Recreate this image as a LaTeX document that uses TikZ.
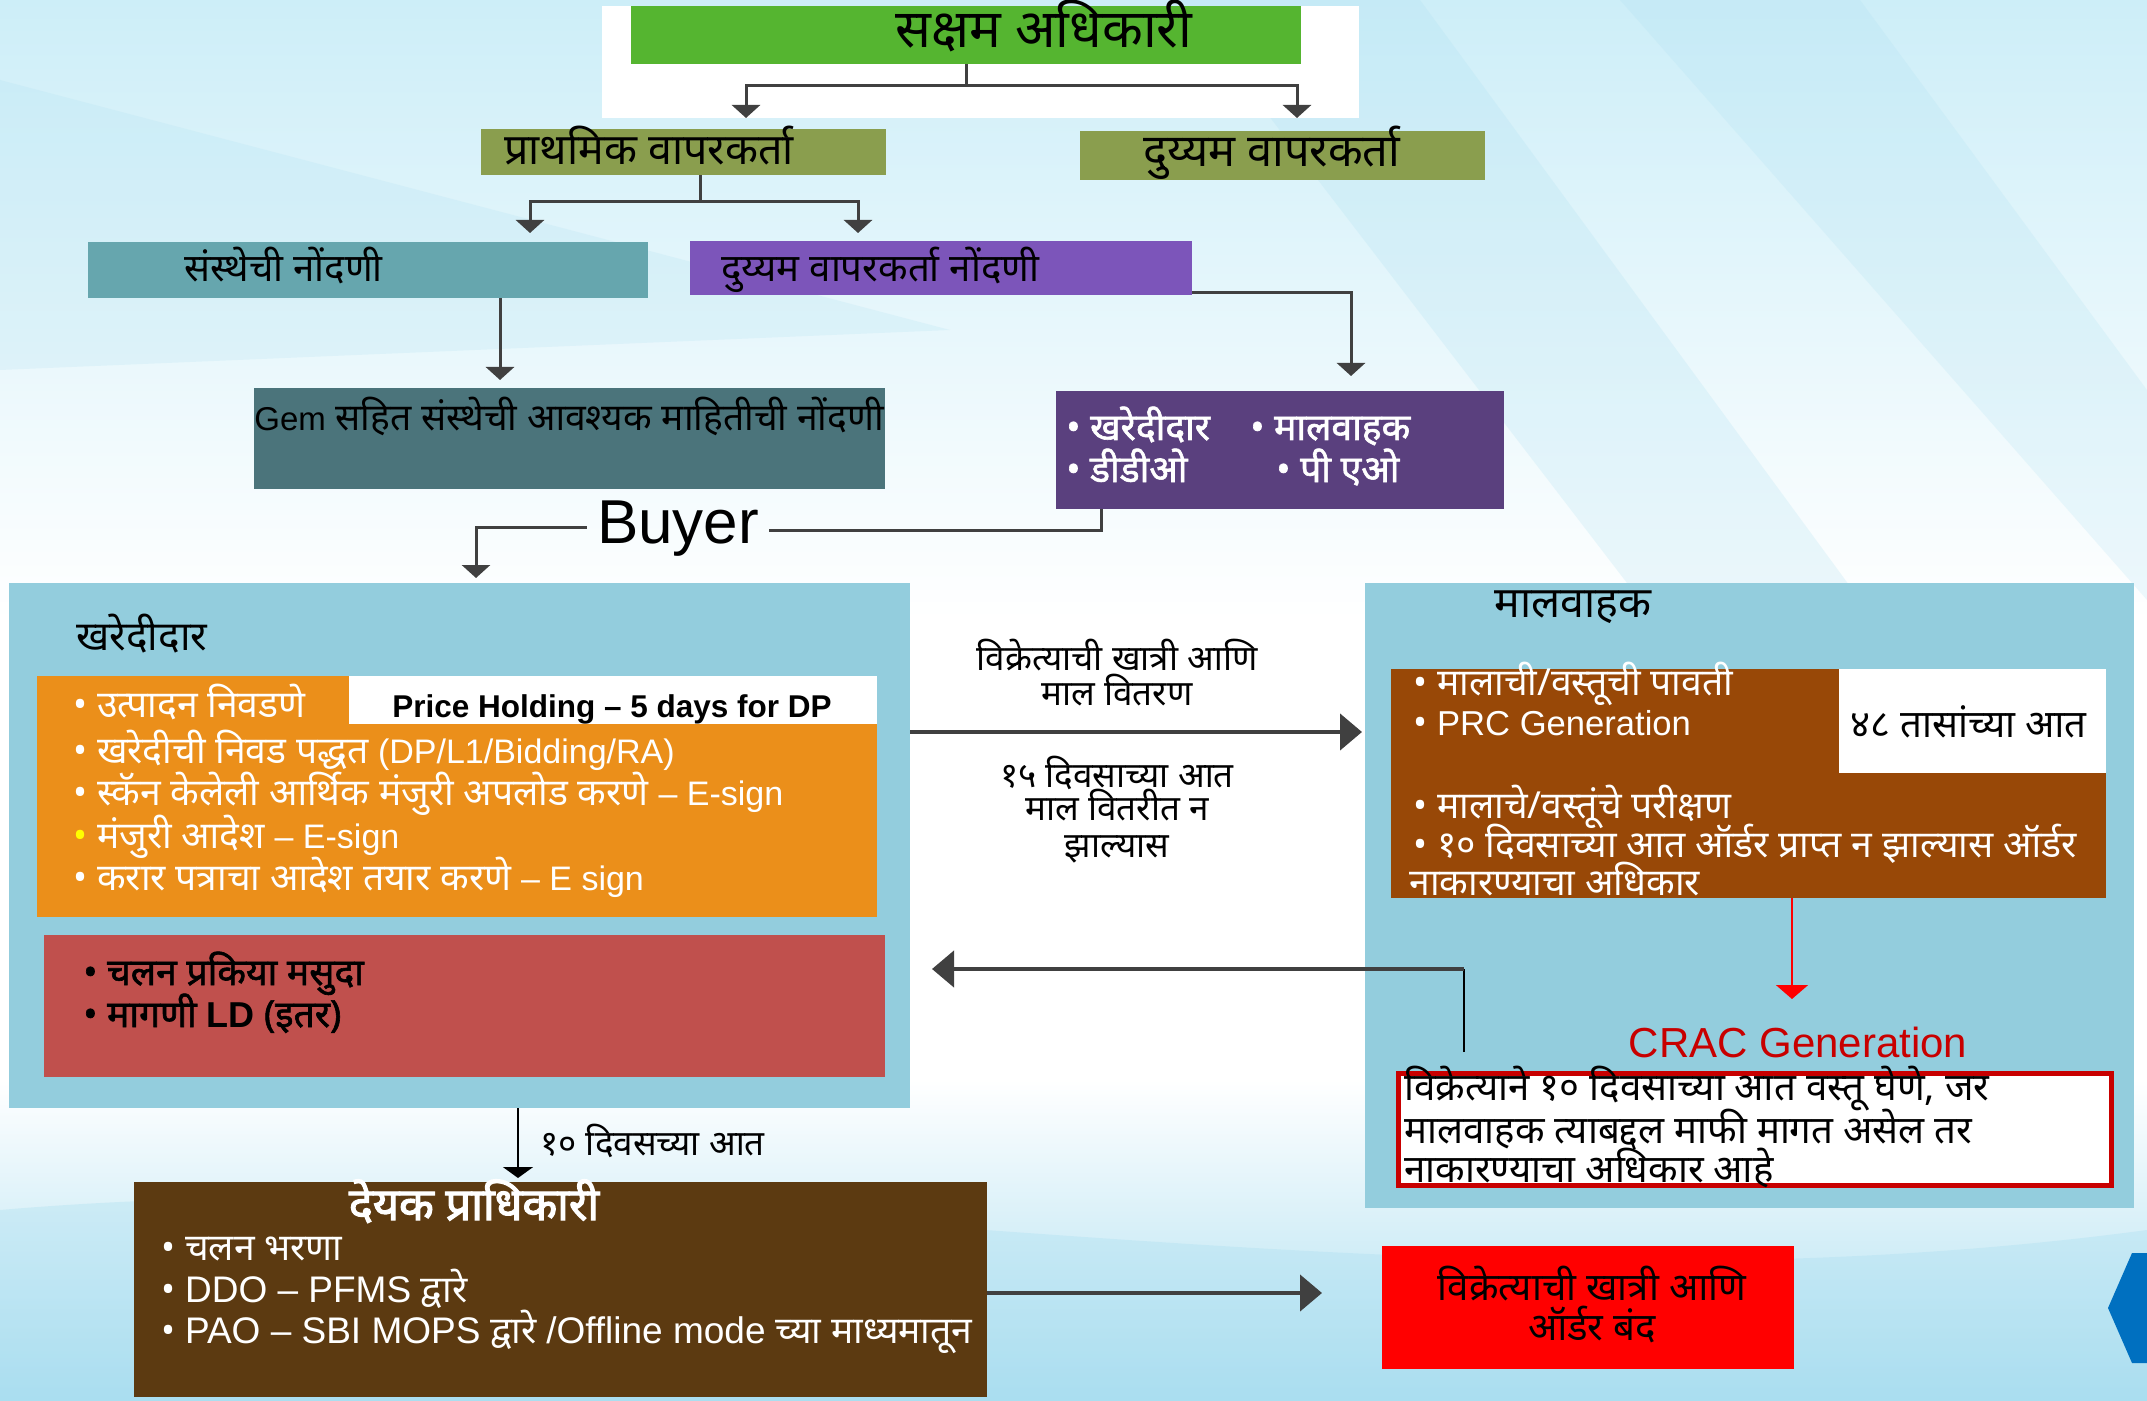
\documentclass[tikz,border=0pt]{standalone}
\usepackage{fontspec}
\setmainfont{Noto Sans}[Script=Devanagari, Scale=1.13]
\newfontfamily\fb{Noto Sans}[Script=Devanagari, Scale=1.13, FakeBold=1.6]
\newfontfamily\fbb{Noto Sans}[Script=Devanagari, Scale=1.13, FakeBold=2.6]
\newfontfamily\lat{Liberation Sans}
\usetikzlibrary{arrows.meta,fit,calc}
\newcommand\fsz[1]{\fontsize{#1}{#1}\selectfont}
\newcommand\lb[2]{{\lat\fontsize{#1}{#1}\selectfont #2}}
\definecolor{bgc}{RGB}{205,238,248}
\definecolor{bgs}{RGB}{170,222,240}
\definecolor{cgreen}{RGB}{85,181,48}
\definecolor{colive}{RGB}{138,158,78}
\definecolor{cteal}{RGB}{102,166,174}
\definecolor{cpurple}{RGB}{124,85,186}
\definecolor{cgem}{RGB}{75,116,123}
\definecolor{cdpurp}{RGB}{90,64,126}
\definecolor{clblue}{RGB}{147,205,221}
\definecolor{corange}{RGB}{235,143,26}
\definecolor{cchalan}{RGB}{192,80,77}
\definecolor{cbrown}{RGB}{152,72,7}
\definecolor{cdbrown}{RGB}{92,58,17}
\definecolor{cred}{RGB}{255,0,0}
\definecolor{ccrac}{RGB}{200,0,0}
\definecolor{cblue}{RGB}{0,112,192}
\definecolor{cline}{RGB}{64,64,64}
\definecolor{cyel}{RGB}{255,255,0}
\begin{document}
\begin{tikzpicture}[x=0.5pt,y=-0.5pt,
  box/.style={inner sep=0pt, draw=none},
  txt/.style={inner sep=0pt, anchor=base west},
  ctxt/.style={inner sep=0pt, anchor=base},
  body/.style={font=\fsz{16.5}},
  ln/.style={draw=cline, line width=1.5pt},
  arr/.style={draw=cline, line width=1.5pt, -{Triangle[width=14pt,length=6.5pt]}},
  bigarr/.style={draw=cline, line width=2.2pt, -{Triangle[width=18pt,length=11pt]}},
  thinarr/.style={draw=black, line width=1pt, -{Triangle[width=15pt,length=5.5pt]}},
  redarr/.style={draw=cred, line width=1pt, -{Triangle[width=16pt,length=7pt]}}
]
\useasboundingbox (0,0) rectangle (2147,1401);
% background
\fill[white] (0,0) rectangle (2147,1401);
\shade[top color=bgc, bottom color=white] (0,0) rectangle (2147,620);
\shade[top color=white, bottom color=bgs] (0,1080) rectangle (2147,1401);
\fill[bgs, opacity=.2] (0,80) -- (950,330) -- (0,370) -- cycle;
\fill[bgs, opacity=.22] (1180,0) -- (1420,0) -- (1860,600) -- (1640,600) -- cycle;
\fill[bgs, opacity=.2] (1620,0) -- (1860,0) -- (2147,390) -- (2147,600) -- cycle;
\fill[bgs, opacity=.35] (0,1210) .. controls (700,1150) and (1400,1330) .. (2147,1230) -- (2147,1401) -- (0,1401) -- cycle;

% boxes
\node[box, fill=white, fit={(602,6) (1359,118)}] (wtop) {};
\node[box, fill=cgreen, fit={(631,6) (1301,64)}] (green) {};
\node[box, fill=colive, fit={(481,129) (886,175)}] (prath) {};
\node[box, fill=colive, fit={(1080,131) (1485,180)}] (duy) {};
\node[box, fill=cteal, fit={(88,242) (648,298)}] (teal) {};
\node[box, fill=cpurple, fit={(690,241) (1192,295)}] (purple) {};
\node[box, fill=cgem, fit={(254,388) (885,489)}] (gem) {};
\node[box, fill=cdpurp, fit={(1056,391) (1504,509)}] (dpurp) {};
\node[box, fill=clblue, fit={(9,583) (910,1108)}] (lblue) {};
\node[box, fill=corange, fit={(37,676) (877,917)}] (orange) {};
\node[box, fill=white, fit={(349,676) (877,724)}] (pwhite) {};
\node[box, fill=cchalan, fit={(44,935) (885,1077)}] (chalan) {};
\node[box, fill=clblue, fit={(1365,583) (2134,1208)}] (rblue) {};
\node[box, fill=cbrown, fit={(1391,669) (2106,898)}] (brown) {};
\node[box, fill=white, fit={(1839,669) (2106,773)}] (bwhite) {};
\node[box, fill=white, draw=ccrac, line width=2.5pt, fit={(1398.5,1073.5) (2111.5,1185.5)}] (crbox) {};
\node[box, fill=cdbrown, fit={(134,1182) (987,1397)}] (dbrown) {};
\node[box, fill=cred, fit={(1382,1246) (1794,1369)}] (redfin) {};
\fill[cblue] (2132,1253) -- (2108,1308) -- (2132,1363) -- (2147,1363) -- (2147,1253) -- cycle;

% texts
\node[ctxt, font=\fsz{23.5}] (ttl) at (1044,48) {सक्षम अधिकारी};
\node[txt, font=\fsz{19}] (prtx) at (504,165) {प्राथमिक वापरकर्ता};
\node[txt, font=\fsz{20}] (dutx) at (1143,167) {दुय्यम वापरकर्ता};
\node[txt, font=\fsz{17}] (tltx) at (184,282) {संस्थेची नोंदणी};
\node[txt, font=\fsz{17}] (pltx) at (721,282) {दुय्यम वापरकर्ता नोंदणी};
\node[txt, body] (gmtx) at (254,430) {\lb{16.5}{Gem} सहित संस्थेची आवश्यक माहितीची नोंदणी};
\begin{scope}[every node/.append style={text=white, font=\fb\fsz{16.5}}]
\node[txt] (dp1) at (1066,440) {• खरेदीदार};
\node[txt] (dp2) at (1250,440) {• मालवाहक};
\node[txt] (dp3) at (1066,482) {• डीडीओ};
\node[txt] (dp4) at (1276,482) {• पी एओ};
\end{scope}
\node[ctxt, font=\lat\fsz{31}, inner xsep=5pt] (buyer) at (678,543) {Buyer};
\node[txt, font=\fsz{18}] (khlbl) at (76,650) {खरेदीदार};
\node[ctxt, font=\lat\bfseries\fsz{15.75}] (price) at (612,717) {Price Holding – 5 days for DP};
\begin{scope}[every node/.append style={text=white, font=\fsz{16.5}}]
\node[txt] (o1) at (73,717) {• उत्पादन निवडणे};
\node[txt] (o2) at (73,763) {• खरेदीची निवड पद्धत \lb{17}{(DP/L1/Bidding/RA)}};
\node[txt] (o3) at (73,805) {• स्कॅन केलेली आर्थिक मंजुरी अपलोड करणे \lb{17}{– E-sign}};
\node[txt] (o4) at (73,848) {{\color{cyel}•} मंजुरी आदेश \lb{17}{– E-sign}};
\node[txt] (o5) at (73,890) {• करार पत्राचा आदेश तयार करणे \lb{17}{– E sign}};
\end{scope}
\begin{scope}[every node/.append style={font=\fb\fsz{16.5}}]
\node[txt] (c1) at (83,985) {• चलन प्रकिया मसुदा};
\node[txt] (c2) at (83,1027) {• मागणी \lb{18}{\bfseries LD} (इतर)};
\end{scope}
\node[txt, font=\fsz{19}] (mvlbl) at (1494,617) {मालवाहक};
\begin{scope}[every node/.append style={font=\fsz{15.5}}]
\node[ctxt] (l1) at (1117,670) {विक्रेत्याची खात्री आणि};
\node[ctxt] (l2) at (1117,705) {माल वितरण};
\node[ctxt] (l3) at (1117,787) {१५ दिवसाच्या आत};
\node[ctxt] (l4) at (1117,820) {माल वितरीत न};
\node[ctxt] (l5) at (1117,857) {झाल्यास};
\end{scope}
\begin{scope}[every node/.append style={text=white, font=\fsz{16.5}}]
\node[txt] (b1) at (1413,695) {• मालाची/वस्तूची पावती};
\node[txt] (b2) at (1413,735) {• \lb{17.3}{PRC Generation}};
\node[txt] (b3) at (1413,818) {• मालाचे/वस्तूंचे परीक्षण};
\node[txt] (b4) at (1413,857) {• १० दिवसाच्या आत ऑर्डर प्राप्त न झाल्यास ऑर्डर};
\node[txt] (b5) at (1409,895) {नाकारण्याचा अधिकार};
\end{scope}
\node[txt, font=\fsz{17}] (h48) at (1850,737) {४८ तासांच्या आत};
\node[ctxt, font=\lat\fsz{21}, text=ccrac] (crac) at (1798,1057) {CRAC Generation};
\begin{scope}[every node/.append style={font=\fsz{17}}]
\node[txt] (r1) at (1404,1100) {विक्रेत्याने १० दिवसाच्या आत वस्तू घेणे, जर};
\node[txt] (r2) at (1404,1143) {मालवाहक त्याबद्दल माफी मागत असेल तर};
\node[txt] (r3) at (1404,1182) {नाकारण्याचा अधिकार आहे};
\end{scope}
\node[txt, font=\fsz{15.5}] (ten) at (540,1155) {१० दिवसच्या आत};
\node[ctxt, font=\fbb\fsz{20}, text=white] (dtitle) at (474,1220) {देयक प्राधिकारी};
\begin{scope}[every node/.append style={text=white, font=\fsz{16.5}}]
\node[txt] (d1) at (161,1260) {• चलन भरणा};
\node[txt] (d2) at (161,1302) {• \lb{18.5}{DDO – PFMS} द्वारे};
\node[txt] (d3) at (161,1343) {• \lb{18.5}{PAO – SBI MOPS} द्वारे \lb{18.5}{/Offline mode} च्या माध्यमातून};
\end{scope}
\begin{scope}[every node/.append style={font=\fsz{17}}]
\node[ctxt] (f1) at (1592,1300) {विक्रेत्याची खात्री आणि};
\node[ctxt] (f2) at (1592,1340) {ऑर्डर बंद};
\end{scope}

% connectors
\coordinate (j1) at (966,86);
\coordinate (t1) at (746,118);
\coordinate (t2) at (1297,118);
\draw[ln] (green.south) -- (j1);
\draw[arr] (j1) -| (t1);
\draw[arr] (j1) -| (t2);
\coordinate (j2) at (700,202);
\coordinate (t3) at (530,233);
\coordinate (t4) at (858,233);
\draw[ln] (prath.south -| j2) -- (j2);
\draw[arr] (j2) -| (t3);
\draw[arr] (j2) -| (t4);
\coordinate (t5) at (500,380);
\draw[arr] (teal.south -| t5) -- (t5);
\coordinate (t6) at (1351,376);
\draw[arr] ([yshift=1.5pt]purple.south east) -| (t6);
\coordinate (k1) at (1101,530);
\coordinate (t7) at (476,578);
\draw[ln] (dpurp.south -| k1) -- (k1) -- (k1 -| buyer.east);
\draw[arr] (buyer.west |- 0,527) -| (t7);
\coordinate (a2) at (1362,732);
\draw[bigarr] (lblue.east |- a2) -- (a2);
\coordinate (m1) at (1464,1052);
\coordinate (m2) at (1464,969);
\coordinate (m3) at (932,969);
\draw[draw=black, line width=1pt] (m1) -- (m2);
\draw[bigarr] (m2) -- (m3);
\coordinate (rr) at (1792,999);
\draw[redarr] (brown.south -| rr) -- (rr);
\coordinate (dd) at (518,1178);
\draw[thinarr] (lblue.south -| dd) -- (dd);
\coordinate (e1) at (1322,1293);
\draw[bigarr] (dbrown.east |- e1) -- (e1);
\end{tikzpicture}
\end{document}
